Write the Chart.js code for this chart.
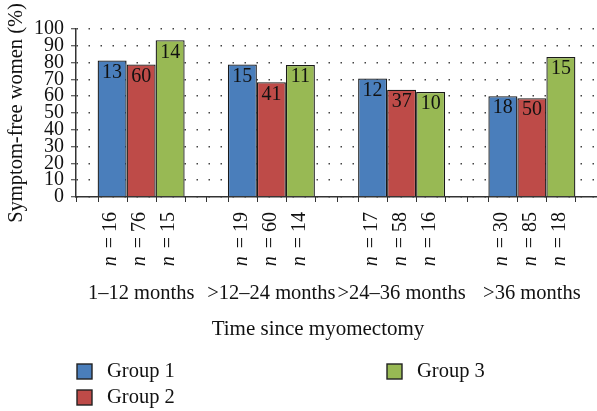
<!DOCTYPE html>
<html>
<head>
<meta charset="utf-8">
<script src="https://cdn.jsdelivr.net/npm/chart.js@4"></script>
<style>
html, body { margin: 0; padding: 0; background: #fff; }
#wrap { width: 597px; height: 411px; }
</style>
</head>
<body>
<div id="wrap"><canvas id="chart" width="597" height="411"></canvas></div>
<script>
/* ==========================================
DATA
========================================== */

const categories = ["1\u201312 months", ">12\u201324 months", ">24\u201336 months", ">36 months"];

const groupNames = ["Group 1", "Group 2", "Group 3"];

// symptom-free percentage per group
const group1 = [81.3, 78.9, 70.6, 60.0];
const group2 = [78.9, 68.3, 63.8, 58.8];
const group3 = [93.3, 78.6, 62.5, 83.3];

// symptom-free counts shown inside bars
const group1Free = [13, 15, 12, 18];
const group2Free = [60, 41, 37, 50];
const group3Free = [14, 11, 10, 15];

// group sizes under the axis
const group1N = [16, 19, 17, 30];
const group2N = [76, 60, 58, 85];
const group3N = [15, 14, 16, 18];

const yTicks = [0, 10, 20, 30, 40, 50, 60, 70, 80, 90, 100];

const colors = ["#4a7ebb", "#be4b48", "#98b954"];

const freeCounts = [group1Free, group2Free, group3Free];
const nCounts = [group1N, group2N, group3N];

const FONT = "'Liberation Serif', 'Times New Roman', serif";


/* ==========================================
ANNOTATIONS PLUGIN
========================================== */

function tick(ctx, x, y){
ctx.beginPath();
ctx.moveTo(Math.round(x) + 0.5, y);
ctx.lineTo(Math.round(x) + 0.5, y + 5);
ctx.stroke();
}

const annotations = {

id: "annotations",

afterDatasetsDraw(chart){

const ctx = chart.ctx;
const area = chart.chartArea;

ctx.save();

ctx.strokeStyle = "#333";
ctx.lineWidth = 1;

// ticks at category boundaries
const step = area.width / categories.length;
for(let i = 0; i <= categories.length; i++){
tick(ctx, area.left + i * step, area.bottom);
}

chart.data.datasets.forEach((ds, di) => {

const meta = chart.getDatasetMeta(di);

meta.data.forEach((bar, i) => {

// count inside bar
ctx.fillStyle = "#111";
ctx.font = "20px " + FONT;
ctx.textAlign = "center";
ctx.textBaseline = "top";
ctx.fillText(String(freeCounts[di][i]), bar.x, bar.y + 2);

// tick marks at bar edges
tick(ctx, bar.x - bar.width / 2, area.bottom);
tick(ctx, bar.x + bar.width / 2, area.bottom);

// rotated n = label
ctx.save();
ctx.translate(bar.x - 1, area.bottom + 15);
ctx.rotate(-Math.PI / 2);
ctx.textAlign = "right";
ctx.textBaseline = "middle";
const rest = "\u2009= " + nCounts[di][i];
ctx.font = "20px " + FONT;
const restW = ctx.measureText(rest).width;
ctx.fillText(rest, 0, 0);
ctx.font = "italic 20px " + FONT;
ctx.fillText("n\u2009", -restW, 0);
ctx.restore();

});

});

ctx.restore();

},

afterDraw(chart){

const ctx = chart.ctx;

ctx.save();

// x axis title
ctx.fillStyle = "#111";
ctx.font = "21px " + FONT;
ctx.textAlign = "center";
ctx.textBaseline = "middle";
ctx.fillText("Time since myomectomy", 318, 329);

// legend, two columns filled top to bottom
chart.data.datasets.forEach((ds, i) => {

const col = Math.floor(i / 2);
const row = i % 2;
const x = 77 + col * 310;
const y = 364 + row * 26;

ctx.fillStyle = ds.backgroundColor;
ctx.fillRect(x, y, 15, 15);
ctx.strokeStyle = "#222";
ctx.lineWidth = 1.4;
ctx.strokeRect(x, y, 15, 15);

ctx.fillStyle = "#111";
ctx.font = "20.5px " + FONT;
ctx.textAlign = "left";
ctx.textBaseline = "middle";
ctx.fillText(ds.label, x + 30, y + 8);

});

ctx.restore();

}

};


/* ==========================================
CHART
========================================== */

new Chart(
document.getElementById("chart"),
{

type: "bar",

data: {

labels: categories,

datasets: [group1, group2, group3].map((values, i) => ({

label: groupNames[i],

data: values,

backgroundColor: colors[i],

borderColor: "#1a1a1a",

borderWidth: 1.3,

borderSkipped: "bottom",

barPercentage: 1,

categoryPercentage: 0.668

}))

},

options: {

responsive: false,

animation: false,

layout: {
padding: { top: 29, right: 0, bottom: 104, left: 0 }
},

plugins: {

legend: { display: false },

tooltip: { enabled: false }

},

scales: {

x: {

afterFit: s => { s.height = 110; },

grid: {
display: true,
drawOnChartArea: false,
offset: true,
tickLength: 82,
tickColor: "rgba(0,0,0,0)"
},

border: { color: "#333", width: 1.5 },

ticks: {
color: "#111",
font: { family: FONT, size: 20.5 },
padding: 2,
maxRotation: 0,
autoSkip: false
}

},

y: {

min: 0,
max: 100,

afterFit: s => { s.width = 76; },

afterBuildTicks: s => {
s.ticks = yTicks.map(v => ({ value: v }));
},

grid: {
color: "#444",
lineWidth: 1.5,
tickLength: 5,
tickColor: "#333",
tickWidth: 1
},

border: {
color: "#333",
width: 1.5,
dash: [1.5, 10.5],
dashOffset: 0
},

ticks: {
color: "#111",
font: { family: FONT, size: 20, lineHeight: 1 },
padding: 7,
autoSkip: false
},

title: {
display: true,
text: "Symptom-free women (%)",
color: "#111",
font: { family: FONT, size: 20.5 },
padding: { top: 4, bottom: 0 }
}

}

}

},

plugins: [annotations]

}
);
</script>
</body>
</html>
